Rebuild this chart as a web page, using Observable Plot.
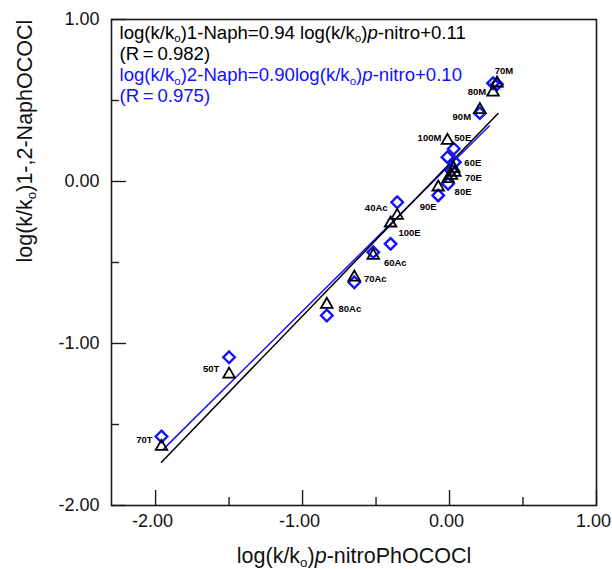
<!DOCTYPE html>
<html><head><meta charset="utf-8">
<script src="https://cdn.jsdelivr.net/npm/d3@7"></script>
<script src="https://cdn.jsdelivr.net/npm/@observablehq/plot@0.6"></script>
<style>html,body{margin:0;padding:0;background:#fff}</style>
</head><body><div id="chart"></div>
<script>
// ---- data ----
const solvents = ["70T","50T","80Ac","70Ac","60Ac","100E","40Ac","90E","80E","70E","60E","50E","100M","90M","80M","70M"];
const xNitro = [-1.96,-1.50,-0.835,-0.648,-0.519,-0.401,-0.356,-0.077,-0.010,0.013,0.036,0.029,-0.014,0.206,0.296,0.323];
const y1Naph = [-1.636,-1.19,-0.759,-0.591,-0.457,-0.257,-0.21,-0.035,0.017,0.037,0.055,0.08,0.253,0.443,0.551,0.607];
const y2Naph = [-1.574,-1.085,-0.827,-0.622,-0.436,-0.385,-0.128,-0.086,-0.014,0.068,0.119,0.202,0.15,0.422,0.607,0.60];
const fit1 = {slope: 0.94, intercept: 0.11, range: [-1.96, 0.33]};
const fit2 = {slope: 0.90, intercept: 0.10, range: [-1.945, 0.27]};
const xMajor = [-2, -1, 0, 1];
const xMinor = [-1.5, -0.5, 0.5];
const yMajor = [-2, -1, 0, 1];
const yMinor = [-1.5, -0.5, 0.5];
const noteLines = [
  "log(k/k_o)1-Naph=0.94 log(k/k_o)*p*-nitro+0.11",
  "(R\u2009=\u20090.982)",
  "log(k/k_o)2-Naph=0.90log(k/k_o)*p*-nitro+0.10",
  "(R\u2009=\u20090.975)"
];
const xTitle = "log(k/k_o)*p*-nitroPhOCOCl";
const yTitle = "log(k/k_o)1-,2-NaphOCOCl";

// ---- layout / style ----
const blue = "#1212ff";
const noteColors = ["#000", "#000", blue, blue];
const labelOffset = {"70T":[-17,-7],"50T":[-18,-5],"80Ac":[23,4],"70Ac":[21,2],"60Ac":[22,7],"100E":[19,10],
  "40Ac":[-21,-8],"90E":[-10,20],"80E":[15,13],"70E":[22,2],"60E":[18,-10],"50E":[9,-31],
  "100M":[-18,-3],"90M":[-18,7],"80M":[-16,0],"70M":[7,-12]};
const font = "'Liberation Sans', Arial, Helvetica, sans-serif";
const fmt = d => d.toFixed(2);
const idx = d3.range(solvents.length);

const marks = [
  Plot.frame({stroke: "#1a1a1a", strokeWidth: 1.6}),
  Plot.axisX({ticks: xMajor, tickSize: 15, dy: -15, fill: "none", label: null, strokeWidth: 1.4, stroke: "#1a1a1a"}),
  Plot.axisX({ticks: xMinor, tickSize: 8, dy: -8, fill: "none", label: null, strokeWidth: 1.4, stroke: "#1a1a1a"}),
  Plot.axisX({ticks: xMajor, tickSize: 0, tickPadding: 9, dx: -3, tickFormat: fmt, fontSize: 18, label: null, fill: "#111"}),
  Plot.axisY({ticks: yMajor, tickSize: 15, dx: 15, fill: "none", label: null, strokeWidth: 1.4, stroke: "#1a1a1a"}),
  Plot.axisY({ticks: yMinor, tickSize: 8, dx: 8, fill: "none", label: null, strokeWidth: 1.4, stroke: "#1a1a1a"}),
  Plot.axisY({ticks: yMajor, tickSize: 0, tickPadding: 12, tickFormat: fmt, fontSize: 18, label: null, fill: "#111"}),
  Plot.line(fit2.range, {x: d => d, y: d => fit2.slope * d + fit2.intercept, stroke: blue, strokeWidth: 1.5}),
  Plot.line(fit1.range, {x: d => d, y: d => fit1.slope * d + fit1.intercept, stroke: "#000", strokeWidth: 1.5}),
  Plot.dot(idx, {x: i => xNitro[i], y: i => y2Naph[i], symbol: "diamond2", r: 5.2, stroke: blue, strokeWidth: 2.4, fill: "none"}),
  Plot.dot(idx, {x: i => xNitro[i], y: i => y1Naph[i], symbol: "triangle", r: 4.3, stroke: "#000", strokeWidth: 1.8, fill: "none"}),
  ...solvents.map((s, i) => Plot.text([i], {x: j => xNitro[j], y: j => y1Naph[j], text: j => solvents[j],
    dx: labelOffset[s][0], dy: labelOffset[s][1], fontSize: 9.5, fontWeight: "bold", fill: "#000"})),
  ...noteLines.map((t, i) => Plot.text([t], {frameAnchor: "top-left", text: d => d, dx: 8, dy: 19 + 21.2 * i,
    lineAnchor: "bottom", textAnchor: "start", fontSize: 18.6, fill: noteColors[i]})),
  Plot.text([xTitle], {frameAnchor: "bottom", text: d => d, dy: 57, lineAnchor: "bottom", fontSize: 21.5, fill: "#111"}),
  Plot.text([yTitle], {frameAnchor: "left", text: d => d, dx: -80, rotate: -90, lineAnchor: "bottom", fontSize: 21.5, fill: "#111"})
];

const svg = Plot.plot({
  width: 612, height: 569,
  marginLeft: 111, marginRight: 16, marginTop: 19, marginBottom: 64,
  x: {domain: [-2.3, 1.0]},
  y: {domain: [-2, 1]},
  style: {fontFamily: font, background: "#fff", color: "#000", overflow: "visible"},
  marks
});
document.getElementById("chart").appendChild(svg);

// rich text: _o -> subscript o, *p* -> italic p
const NS = "http://www.w3.org/2000/svg";
svg.querySelectorAll("text").forEach(el => {
  const s = el.textContent;
  if (!/_o|\*p\*/.test(s)) return;
  const fs = parseFloat(getComputedStyle(el).fontSize) || 16;
  el.textContent = "";
  let shift = 0;
  for (const p of s.split(/(_o|\*p\*)/)) {
    if (!p) continue;
    const ts = document.createElementNS(NS, "tspan");
    if (p === "_o") {
      ts.textContent = "o";
      ts.setAttribute("font-size", (fs * 0.62).toFixed(2));
      ts.setAttribute("dy", (fs * 0.2).toFixed(2));
      shift = fs * 0.2;
    } else {
      ts.textContent = p === "*p*" ? "p" : p;
      if (p === "*p*") ts.setAttribute("font-style", "italic");
      if (shift) { ts.setAttribute("dy", (-shift).toFixed(2)); shift = 0; }
    }
    el.appendChild(ts);
  }
});
</script>
</body></html>
